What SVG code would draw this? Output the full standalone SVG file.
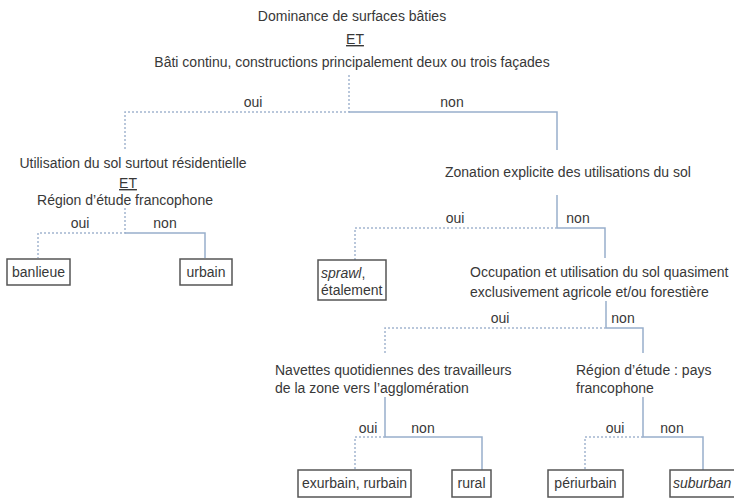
<svg xmlns="http://www.w3.org/2000/svg" width="734" height="503" viewBox="0 0 734 503">
<style>
text{font-family:"Liberation Sans",Arial,sans-serif;font-size:14px;fill:#383838}
.c{text-anchor:middle}
.i{font-style:italic}
.u{text-decoration:underline}
.box{fill:#fff;stroke:#555;stroke-width:1.5}
.s{fill:none;stroke:#98afcb;stroke-width:1.5}
.d{fill:none;stroke:#a3b5cf;stroke-width:1.5;stroke-dasharray:2 2}
</style>
<rect width="734" height="503" fill="#fff"/>
<g id="connectors">
<path class="d" d="M349 75V112H125V150"/>
<path class="s" d="M349 112H557V150"/>
<path class="d" d="M125 208V233H38V258"/>
<path class="s" d="M125 233H205V258"/>
<path class="s" d="M557 195V228"/>
<path class="d" d="M557 228H355V260"/>
<path class="s" d="M557 228H605V258"/>
<path class="s" d="M606 301V328"/>
<path class="d" d="M606 328H385V353"/>
<path class="s" d="M606 328H643V353"/>
<path class="s" d="M385 397V437H482V470"/>
<path class="d" d="M385 437H355V470"/>
<path class="s" d="M643 397V437H703V470"/>
<path class="d" d="M643 437H585V470"/>
</g>
<g id="labels">
<text class="c" x="253" y="107">oui</text>
<text class="c" x="452" y="107">non</text>
<text class="c" x="80" y="228">oui</text>
<text class="c" x="165" y="228">non</text>
<text class="c" x="455" y="223">oui</text>
<text class="c" x="578" y="223">non</text>
<text class="c" x="500" y="323">oui</text>
<text class="c" x="623" y="323">non</text>
<text class="c" x="368" y="433">oui</text>
<text class="c" x="423" y="433">non</text>
<text class="c" x="615" y="433">oui</text>
<text class="c" x="672" y="433">non</text>
</g>
<g id="q1">
<text class="c" x="352" y="21">Dominance de surfaces bâties</text>
<text class="c u" x="355" y="44">ET</text>
<text class="c" x="352" y="67">Bâti continu, constructions principalement deux ou trois façades</text>
</g>
<g id="q2">
<text class="c" x="133" y="168">Utilisation du sol surtout résidentielle</text>
<text class="c u" x="128" y="188">ET</text>
<text class="c" x="125" y="205">Région d’étude francophone</text>
</g>
<g id="q3">
<text x="445" y="177">Zonation explicite des utilisations du sol</text>
</g>
<g id="q4">
<text x="470" y="277">Occupation et utilisation du sol quasiment</text>
<text x="470" y="297">exclusivement agricole et/ou forestière</text>
</g>
<g id="q5">
<text x="275" y="375">Navettes quotidiennes des travailleurs</text>
<text x="275" y="393">de la zone vers l’agglomération</text>
</g>
<g id="q6">
<text x="576" y="375">Région d’étude : pays</text>
<text x="576" y="393">francophone</text>
</g>
<g id="banlieue">
<rect class="box" x="7" y="259" width="63" height="26"/>
<text class="c" x="38.5" y="277">banlieue</text>
</g>
<g id="urbain">
<rect class="box" x="180" y="259" width="52" height="26"/>
<text class="c" x="206" y="277">urbain</text>
</g>
<g id="sprawl">
<rect class="box" x="318" y="260" width="68" height="40"/>
<text class="i" x="321" y="278">sprawl<tspan font-style="normal">,</tspan></text>
<text x="321" y="295">étalement</text>
</g>
<g id="exurbain">
<rect class="box" x="298" y="470" width="113" height="27"/>
<text class="c" x="354.5" y="488">exurbain, rurbain</text>
</g>
<g id="rural">
<rect class="box" x="452" y="470" width="39" height="27"/>
<text class="c" x="471.5" y="488">rural</text>
</g>
<g id="periurbain">
<rect class="box" x="548" y="470" width="75" height="27"/>
<text class="c" x="585.5" y="488">périurbain</text>
</g>
<g id="suburban">
<rect class="box" x="670" y="470" width="70" height="27"/>
<text class="i" x="673" y="488">suburban</text>
</g>
</svg>
